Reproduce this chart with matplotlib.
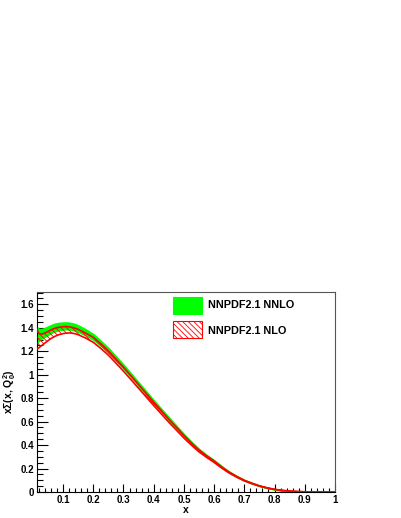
import numpy as np
import matplotlib
matplotlib.use("Agg")
import matplotlib.pyplot as plt
from matplotlib.patches import Rectangle

# ---- data ----
x = [0.013, 0.016, 0.02, 0.025, 0.03, 0.04, 0.05, 0.06, 0.07, 0.08, 0.09, 0.10,
     0.11, 0.12, 0.13, 0.14, 0.15, 0.175, 0.20, 0.225, 0.25, 0.275, 0.30, 0.35,
     0.40, 0.45, 0.50, 0.525, 0.55, 0.575, 0.60, 0.625, 0.65, 0.675, 0.70, 0.725,
     0.75, 0.775, 0.80, 0.825, 0.85, 0.875, 0.90, 0.95, 1.00]
nnlo_up = [1.410, 1.395, 1.390, 1.388, 1.390, 1.398, 1.410, 1.422, 1.432, 1.438,
           1.442, 1.444, 1.445, 1.443, 1.438, 1.430, 1.420, 1.386, 1.345, 1.288,
           1.227, 1.156, 1.085, 0.934, 0.782, 0.636, 0.494, 0.428, 0.367, 0.316,
           0.271, 0.220, 0.174, 0.136, 0.102, 0.077, 0.054, 0.037, 0.024, 0.015,
           0.009, 0.005, 0.002, 0.0, 0.0]
nnlo_lo = [1.270, 1.278, 1.290, 1.302, 1.312, 1.325, 1.340, 1.355, 1.367, 1.376,
           1.382, 1.386, 1.388, 1.387, 1.383, 1.376, 1.367, 1.336, 1.300, 1.248,
           1.190, 1.122, 1.054, 0.906, 0.757, 0.614, 0.476, 0.412, 0.353, 0.304,
           0.259, 0.210, 0.166, 0.130, 0.098, 0.073, 0.052, 0.035, 0.022, 0.013,
           0.007, 0.004, 0.001, 0.0, 0.0]
nlo_up = [1.395, 1.370, 1.352, 1.346, 1.347, 1.355, 1.368, 1.382, 1.393, 1.401,
          1.406, 1.409, 1.410, 1.408, 1.403, 1.396, 1.386, 1.354, 1.318, 1.263,
          1.203, 1.134, 1.064, 0.915, 0.766, 0.621, 0.482, 0.417, 0.358, 0.309,
          0.264, 0.214, 0.169, 0.132, 0.100, 0.075, 0.053, 0.036, 0.023, 0.014,
          0.008, 0.004, 0.002, 0.0, 0.0]
nlo_lo = [1.220, 1.222, 1.230, 1.240, 1.250, 1.270, 1.290, 1.308, 1.323, 1.335,
          1.344, 1.350, 1.354, 1.356, 1.354, 1.349, 1.341, 1.312, 1.276, 1.224,
          1.166, 1.099, 1.030, 0.884, 0.737, 0.595, 0.460, 0.399, 0.342, 0.295,
          0.252, 0.204, 0.161, 0.126, 0.095, 0.071, 0.050, 0.034, 0.022, 0.013,
          0.007, 0.004, 0.001, 0.0, 0.0]

labels = ["NNPDF2.1 NNLO", "NNPDF2.1 NLO"]
xlabel = "x"
ylabel = r"x$\Sigma$(x, Q$_0^2$)"

plt.rcParams['font.family'] = ['Liberation Sans', 'DejaVu Sans']
plt.rcParams['mathtext.fontset'] = 'custom'
plt.rcParams['mathtext.rm'] = 'Liberation Sans:bold'
plt.rcParams['mathtext.it'] = 'Liberation Sans:bold'
plt.rcParams['hatch.linewidth'] = 0.6
plt.rcParams['hatch.color'] = 'red'

fig = plt.figure(figsize=(4.01, 5.18), dpi=100)
ax = fig.add_axes([0.0923, 0.0502, 0.743, 0.3861])

green = '#00ff00'
ax.fill_between(x, nnlo_lo, nnlo_up, color=green, lw=1.2, edgecolor=green, zorder=2)
ax.fill_between(x, nlo_lo, nlo_up, facecolor='none', edgecolor='red', hatch='\\\\\\\\\\\\',
                lw=0, zorder=3)
ax.plot(x, nlo_up, color='red', lw=1.2, zorder=4)
ax.plot(x, nlo_lo, color='red', lw=1.2, zorder=4)

ax.set_xlim(0.0137, 1.0)
ax.set_ylim(0, 1.705)

ax.set_xticks(np.arange(0.1, 1.01, 0.1))
ax.set_xticklabels(['0.1', '0.2', '0.3', '0.4', '0.5', '0.6', '0.7', '0.8', '0.9', '1'])
ax.set_xticks(np.arange(0.02, 1.0, 0.02), minor=True)
ax.set_yticks(np.arange(0, 1.61, 0.2))
ax.set_yticklabels(['0', '0.2', '0.4', '0.6', '0.8', '1', '1.2', '1.4', '1.6'])
ax.set_yticks(np.arange(0.05, 1.71, 0.05), minor=True)

ax.tick_params(axis='both', which='both', direction='in', top=False, right=False,
               labelsize=7, width=0.8, color='black')
ax.tick_params(axis='y', which='major', length=8, pad=2)
ax.tick_params(axis='y', which='minor', length=4)
ax.tick_params(axis='x', which='major', length=6, pad=2)
ax.tick_params(axis='x', which='minor', length=3)
for lab in ax.get_xticklabels() + ax.get_yticklabels():
    lab.set_fontweight('bold')

for sp in ax.spines.values():
    sp.set_linewidth(0.8)
    sp.set_color('#555555')
ax.spines['left'].set_color('black')
ax.spines['bottom'].set_color('black')

ax.set_xlabel(xlabel, fontsize=7.5, fontweight='bold', labelpad=0)
ax.set_ylabel(ylabel, fontsize=7.5, fontweight='bold', labelpad=2)

# legend drawn manually (ROOT-like)
W, H = 401.0, 518.0
r1 = Rectangle((173 / W, 1 - 314 / H), 29 / W, 17 / H, transform=fig.transFigure,
               facecolor=green, edgecolor=green, lw=0.8)
r2 = Rectangle((173 / W, 1 - 338 / H), 29 / W, 17 / H, transform=fig.transFigure,
               facecolor='white', edgecolor='red', hatch='\\\\\\\\\\\\', lw=0.8)
fig.patches.extend([r1, r2])
fig.text(208 / W, 1 - 305.5 / H, labels[0], fontsize=7.8, fontweight='bold', va='center')
fig.text(208 / W, 1 - 330.5 / H, labels[1], fontsize=7.8, fontweight='bold', va='center')

fig.savefig('out.png', dpi=100)
